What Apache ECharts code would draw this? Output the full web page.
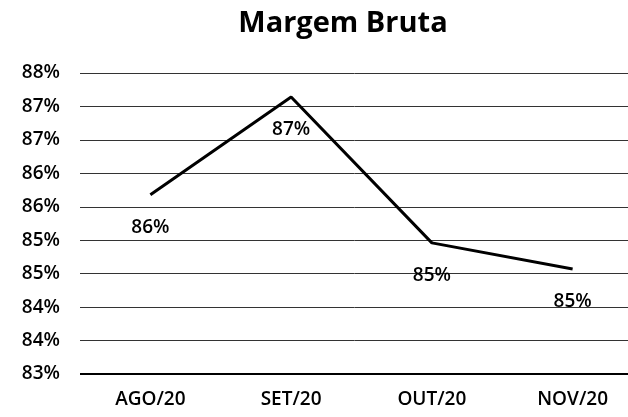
<!DOCTYPE html>
<html>
<head>
<meta charset="utf-8">
<script src="https://cdn.jsdelivr.net/npm/echarts@6/dist/echarts.min.js"></script>
<style>
  html, body { margin: 0; padding: 0; background: #fff; }
  #chart { width: 628px; height: 417px; }
</style>
</head>
<body>
<div id="chart"></div>
<script>
// dados do gráfico
var months = ['AGO/20', 'SET/20', 'OUT/20', 'NOV/20']
var margemBruta = [85.68, 87.14, 84.96, 84.57]
var yMin = 83
var yMax = 87.5
var yStep = 0.5

var chart = echarts.init(document.getElementById('chart'))
chart.setOption({
  animation: false,
  backgroundColor: '#fff',
  title: {
    text: 'Margem Bruta',
    left: 338,
    top: 4,
    textAlign: 'center',
    textStyle: {
      fontFamily: 'Open Sans',
      fontSize: 29,
      fontWeight: 'bold',
      color: '#000'
    }
  },
  grid: {
    left: 80,
    right: -15,
    top: 73,
    bottom: 43,
    outerBoundsMode: 'none'
  },
  xAxis: {
    type: 'category',
    data: months,
    boundaryGap: true,
    axisTick: { show: false },
    axisLine: { show: false },
    axisLabel: {
      margin: 16,
      fontFamily: 'Open Sans',
      fontSize: 19,
      fontWeight: 600,
      color: '#000'
    }
  },
  yAxis: {
    type: 'value',
    min: yMin,
    max: yMax,
    interval: yStep,
    axisLine: { show: false },
    axisTick: { show: false },
    splitLine: {
      lineStyle: { color: '#333', width: 1 }
    },
    axisLabel: {
      margin: 20,
      fontFamily: 'Open Sans',
      fontSize: 19,
      fontWeight: 600,
      color: '#000',
      formatter: function (v) {
        return Math.round(v) + '%'
      }
    }
  },
  series: [{
    name: 'Margem Bruta',
    type: 'line',
    data: margemBruta,
    symbol: 'circle',
    symbolSize: 0,
    showSymbol: true,
    lineStyle: { color: '#000', width: 3 },
    label: {
      show: true,
      position: 'bottom',
      distance: 23,
      fontFamily: 'Open Sans',
      fontSize: 19,
      fontWeight: 600,
      color: '#000',
      formatter: function (p) {
        return Math.round(p.value) + '%'
      }
    },
    markLine: {
      silent: true,
      symbol: 'none',
      label: { show: false },
      lineStyle: { color: '#000', width: 2, type: 'solid' },
      data: [{ yAxis: yMin }]
    }
  }]
})
</script>
</body>
</html>
